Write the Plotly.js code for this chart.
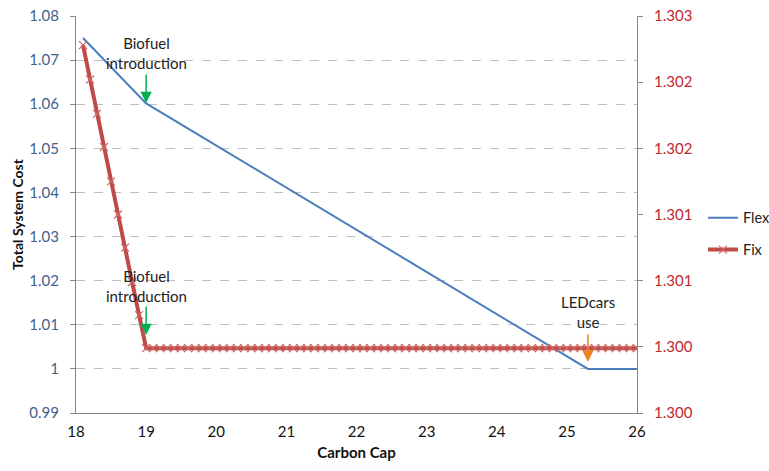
<!DOCTYPE html>
<html>
<head>
<meta charset="utf-8">
<script src="https://cdn.plot.ly/plotly-3.0.1.min.js"></script>
<style>html,body{margin:0;padding:0;background:#fff;}#chart{width:769px;height:471px;}</style>
</head>
<body>
<div id="chart"></div>
<script>
// ---- data ----
var flexX = [18.1, 19.0, 25.3, 26.0];
var flexY = [1.075, 1.0602, 1.0, 1.0];

var fixX = [18.1, 18.2, 18.3, 18.4, 18.5, 18.6, 18.7, 18.8, 18.9, 19.0,
            19.1, 19.2, 19.3, 19.4, 19.5, 19.6, 19.7, 19.8, 19.9, 20.0,
            20.1, 20.2, 20.3, 20.4, 20.5, 20.6, 20.7, 20.8, 20.9, 21.0,
            21.1, 21.2, 21.3, 21.4, 21.5, 21.6, 21.7, 21.8, 21.9, 22.0,
            22.1, 22.2, 22.3, 22.4, 22.5, 22.6, 22.7, 22.8, 22.9, 23.0,
            23.1, 23.2, 23.3, 23.4, 23.5, 23.6, 23.7, 23.8, 23.9, 24.0,
            24.1, 24.2, 24.3, 24.4, 24.5, 24.6, 24.7, 24.8, 24.9, 25.0,
            25.1, 25.2, 25.3, 25.4, 25.5, 25.6, 25.7, 25.8, 25.9, 26.0];
var fixY = [1.30278, 1.30252, 1.30226, 1.30201, 1.30175, 1.30150, 1.30125, 1.30099, 1.30074, 1.30049,
            1.30049, 1.30049, 1.30049, 1.30049, 1.30049, 1.30049, 1.30049, 1.30049, 1.30049, 1.30049,
            1.30049, 1.30049, 1.30049, 1.30049, 1.30049, 1.30049, 1.30049, 1.30049, 1.30049, 1.30049,
            1.30049, 1.30049, 1.30049, 1.30049, 1.30049, 1.30049, 1.30049, 1.30049, 1.30049, 1.30049,
            1.30049, 1.30049, 1.30049, 1.30049, 1.30049, 1.30049, 1.30049, 1.30049, 1.30049, 1.30049,
            1.30049, 1.30049, 1.30049, 1.30049, 1.30049, 1.30049, 1.30049, 1.30049, 1.30049, 1.30049,
            1.30049, 1.30049, 1.30049, 1.30049, 1.30049, 1.30049, 1.30049, 1.30049, 1.30049, 1.30049,
            1.30049, 1.30049, 1.30049, 1.30049, 1.30049, 1.30049, 1.30049, 1.30049, 1.30049, 1.30049];

var xTickVals = [18, 19, 20, 21, 22, 23, 24, 25, 26];
var leftTickVals = [0.99, 1.00, 1.01, 1.02, 1.03, 1.04, 1.05, 1.06, 1.07, 1.08];
var leftTickText = ['0.99', '1', '1.01', '1.02', '1.03', '1.04', '1.05', '1.06', '1.07', '1.08'];
var rightTickVals = [1.3000, 1.3005, 1.3010, 1.3015, 1.3020, 1.3025, 1.3030];
var rightTickText = ['1.300', '1.300', '1.301', '1.301', '1.302', '1.302', '1.303'];

// ---- styles ----
var FONT = 'Lato, "Open Sans", sans-serif';
var AXIS_GRAY = '#868686';

var traces = [
  {
    x: flexX, y: flexY, name: 'Flex', type: 'scatter', mode: 'lines',
    yaxis: 'y', legendgroup: 'a',
    line: {color: '#4A7EBB', width: 2}
  },
  {
    x: fixX, y: fixY, name: 'Fix', type: 'scatter', mode: 'lines+markers',
    yaxis: 'y2', legendgroup: 'b',
    line: {color: '#BE4B48', width: 4},
    marker: {symbol: 'x-thin-open', size: 8, color: '#D06A67', line: {color: '#D06A67', width: 1.2}}
  }
];

var layout = {
  width: 769, height: 471,
  margin: {l: 76, r: 132, t: 16, b: 58, autoexpand: false},
  paper_bgcolor: '#ffffff', plot_bgcolor: '#ffffff',
  font: {family: FONT, size: 15, color: '#222'},
  showlegend: true,
  legend: {
    x: 1.1176, y: 0.532, xanchor: 'left', yanchor: 'top',
    font: {family: FONT, size: 14.5, color: '#222'},
    traceorder: 'grouped', tracegroupgap: 10,
    bgcolor: 'rgba(0,0,0,0)'
  },
  xaxis: {
    range: [18, 26], tickvals: xTickVals,
    showgrid: false, zeroline: false,
    showline: true, linecolor: AXIS_GRAY, linewidth: 1,
    ticks: '', tickfont: {family: FONT, size: 15, color: '#111'},
    ticklabelstandoff: 5,
    title: {text: '<b>Carbon Cap</b>', font: {family: FONT, size: 15, color: '#111'}, standoff: 8}
  },
  yaxis: {
    range: [0.99, 1.08], tickvals: leftTickVals, ticktext: leftTickText,
    showgrid: true, gridcolor: '#BFBFBF', griddash: 'dash', gridwidth: 1,
    zeroline: false,
    showline: true, linecolor: AXIS_GRAY, linewidth: 1,
    ticks: 'outside', ticklen: 5, tickcolor: AXIS_GRAY,
    tickfont: {family: FONT, size: 15, color: '#3F5F8C'},
    ticklabelstandoff: 8,
    title: {text: '<b>Total System Cost</b>', font: {family: FONT, size: 14, color: '#111'}, standoff: 2}
  },
  yaxis2: {
    range: [1.3, 1.303], tickvals: rightTickVals, ticktext: rightTickText,
    overlaying: 'y', side: 'right',
    showgrid: false, zeroline: false,
    showline: true, linecolor: AXIS_GRAY, linewidth: 1,
    ticks: 'outside', ticklen: 5, tickcolor: AXIS_GRAY,
    tickfont: {family: FONT, size: 15, color: '#C0282E'},
    ticklabelstandoff: 8
  },
  annotations: [
    {x: 19, y: 1.0716, xref: 'x', yref: 'y', text: 'Biofuel<br>introduction', showarrow: false,
     font: {family: FONT, size: 15, color: '#222'}, xanchor: 'center', yanchor: 'middle'},
    {x: 19, y: 1.0603, xref: 'x', yref: 'y', text: '', showarrow: true, ax: 0, ay: -30,
     arrowcolor: '#00B050', arrowwidth: 1.5, arrowhead: 2, arrowsize: 1.5, standoff: 0},
    {x: 19, y: 1.0187, xref: 'x', yref: 'y', text: 'Biofuel<br>introduction', showarrow: false,
     font: {family: FONT, size: 15, color: '#222'}, xanchor: 'center', yanchor: 'middle'},
    {x: 19, y: 1.0077, xref: 'x', yref: 'y', text: '', showarrow: true, ax: 0, ay: -30,
     arrowcolor: '#00B050', arrowwidth: 1.5, arrowhead: 2, arrowsize: 1.5, standoff: 0},
    {x: 25.3, y: 1.0130, xref: 'x', yref: 'y', text: 'LEDcars<br>use', showarrow: false,
     font: {family: FONT, size: 15, color: '#222'}, xanchor: 'center', yanchor: 'middle'},
    {x: 25.3, y: 1.0016, xref: 'x', yref: 'y', text: '', showarrow: true, ax: 0, ay: -29,
     arrowcolor: '#F0821E', arrowwidth: 1.5, arrowhead: 2, arrowsize: 1.5, standoff: 0}
  ]
};

Plotly.newPlot('chart', traces, layout, {displayModeBar: false, staticPlot: true});
</script>
</body>
</html>
